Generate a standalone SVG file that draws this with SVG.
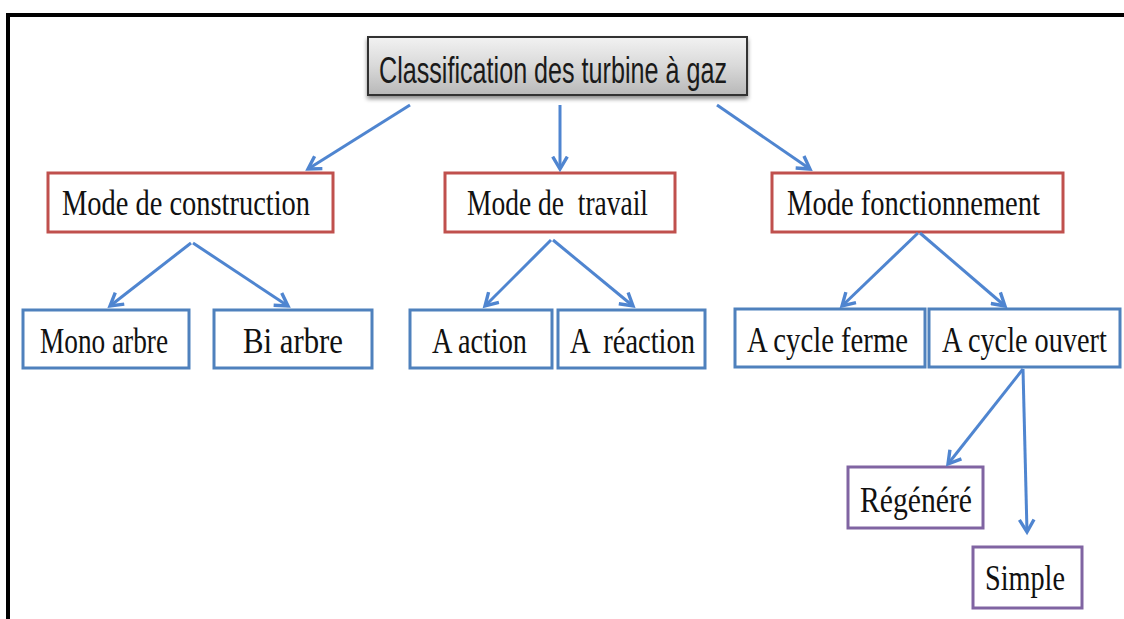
<svg xmlns="http://www.w3.org/2000/svg" width="1124" height="619" viewBox="0 0 1124 619">
<defs>
<linearGradient id="gray" x1="0" y1="0" x2="0" y2="1">
<stop offset="0" stop-color="#f2f2f2"/>
<stop offset="0.5" stop-color="#d9d9d9"/>
<stop offset="1" stop-color="#b8b8b8"/>
</linearGradient>
<filter id="shadow" x="-5%" y="-20%" width="110%" height="160%">
<feDropShadow dx="0" dy="3" stdDeviation="2" flood-color="#000" flood-opacity="0.45"/>
</filter>
<marker id="arr" markerUnits="userSpaceOnUse" markerWidth="18" markerHeight="18" refX="12" refY="8" orient="auto" viewBox="0 0 16 16">
<path d="M1,1.5 L12,8 L1,14.5" fill="none" stroke="#4f85d0" stroke-width="3" stroke-linejoin="miter"/>
</marker>
</defs>
<style>
.red{fill:#fff;stroke:#c0504d;stroke-width:3}
.blue{fill:#fff;stroke:#4f81bd;stroke-width:3}
.purple{fill:#fff;stroke:#8064a2;stroke-width:3}
.t{font-family:"Liberation Serif","Times New Roman",serif;font-size:35px;fill:#111}
.c{stroke:#4f85d0;stroke-width:3;fill:none;marker-end:url(#arr)}
</style>
<rect width="1124" height="619" fill="#fff"/>
<g id="frame">
<path d="M8,619 L8,15 L1124,15" fill="none" stroke="#000" stroke-width="4"/>
</g>
<g id="root">
<rect x="368" y="37" width="379" height="58" fill="url(#gray)" stroke="#333" stroke-width="2" filter="url(#shadow)"/>
<text x="379" y="83" font-family="'Liberation Sans Narrow','Liberation Sans',Arial,sans-serif" font-size="36" fill="#1a1a1a" textLength="348" lengthAdjust="spacingAndGlyphs">Classification des turbine à gaz</text>
</g>
<g id="construction">
<rect class="red" x="48" y="173" width="285" height="59"/>
<text class="t" x="62" y="215" textLength="248" lengthAdjust="spacingAndGlyphs">Mode de construction</text>
</g>
<g id="travail">
<rect class="red" x="445" y="173" width="230" height="59"/>
<text class="t" x="467" y="215" textLength="181" lengthAdjust="spacingAndGlyphs" xml:space="preserve">Mode de  travail</text>
</g>
<g id="fonctionnement">
<rect class="red" x="772" y="173" width="291" height="59"/>
<text class="t" x="787" y="215" textLength="253" lengthAdjust="spacingAndGlyphs">Mode fonctionnement</text>
</g>
<g id="mono">
<rect class="blue" x="23" y="310" width="166" height="58"/>
<text class="t" x="40" y="353" textLength="128" lengthAdjust="spacingAndGlyphs">Mono arbre</text>
</g>
<g id="bi">
<rect class="blue" x="214" y="310" width="158" height="58"/>
<text class="t" x="243" y="353" textLength="100" lengthAdjust="spacingAndGlyphs">Bi arbre</text>
</g>
<g id="action">
<rect class="blue" x="410" y="310" width="142" height="58"/>
<text class="t" x="432" y="353" textLength="95" lengthAdjust="spacingAndGlyphs">A action</text>
</g>
<g id="reaction">
<rect class="blue" x="558" y="310" width="147" height="58"/>
<text class="t" x="570" y="353" textLength="125" lengthAdjust="spacingAndGlyphs" xml:space="preserve">A  réaction</text>
</g>
<g id="ferme">
<rect class="blue" x="735" y="309" width="190" height="58"/>
<text class="t" x="747" y="352" textLength="161" lengthAdjust="spacingAndGlyphs">A cycle ferme</text>
</g>
<g id="ouvert">
<rect class="blue" x="929" y="309" width="191" height="58"/>
<text class="t" transform="translate(942,352) scale(0.8,1)" x="0" y="0" textLength="206" lengthAdjust="spacingAndGlyphs">A cycle ouvert</text>
</g>
<g id="regenere">
<rect class="purple" x="848" y="467" width="135" height="61"/>
<text class="t" x="860" y="512" textLength="112" lengthAdjust="spacingAndGlyphs">Régénéré</text>
</g>
<g id="simple">
<rect class="purple" x="973" y="547" width="109" height="61"/>
<text class="t" x="985" y="590" textLength="80" lengthAdjust="spacingAndGlyphs">Simple</text>
</g>
<g id="connectors">
<line class="c" x1="410" y1="105" x2="308" y2="169"/>
<line class="c" x1="560" y1="105" x2="560" y2="169"/>
<line class="c" x1="717" y1="105" x2="810" y2="169"/>
<line class="c" x1="191" y1="243" x2="110" y2="306"/>
<line class="c" x1="193" y1="243" x2="288" y2="306"/>
<line class="c" x1="551" y1="240" x2="485" y2="306"/>
<line class="c" x1="553" y1="240" x2="633" y2="306"/>
<line class="c" x1="918" y1="233" x2="842" y2="306"/>
<line class="c" x1="920" y1="233" x2="1005" y2="306"/>
<line class="c" x1="1023" y1="369" x2="948" y2="464"/>
<line class="c" x1="1023" y1="369" x2="1027" y2="532"/>
</g>
</svg>
